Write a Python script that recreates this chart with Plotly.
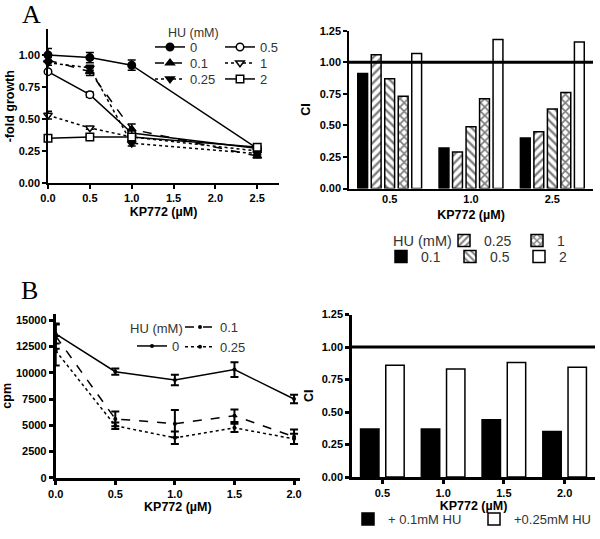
"""
Recreation of a two-panel figure: KP772 / HU growth curves and combination index bars.
"""

import plotly.graph_objects as go

# Data

# Panel A, left: -fold growth vs KP772 for several HU concentrations
KP_A = [0.0, 0.5, 1.0, 2.5]
GROWTH_HU0 = [1.00, 0.98, 0.92, 0.27]
GROWTH_HU0_ERR = [0.05, 0.04, 0.04, 0.02]
GROWTH_HU01 = [0.96, 0.87, 0.42, 0.21]
GROWTH_HU01_ERR = [0.02, 0.03, 0.04, 0.01]
GROWTH_HU025 = [0.94, 0.90, 0.31, 0.23]
GROWTH_HU025_ERR = [0.02, 0.02, 0.02, 0.01]
GROWTH_HU05 = [0.87, 0.69, 0.39, 0.27]
GROWTH_HU05_ERR = [0.01, 0.02, 0.02, 0.01]
GROWTH_HU1 = [0.53, 0.43, 0.36, 0.25]
GROWTH_HU1_ERR = [0.03, 0.01, 0.02, 0.01]
GROWTH_HU2 = [0.35, 0.36, 0.36, 0.28]
GROWTH_HU2_ERR = [0.01, 0.01, 0.01, 0.01]

# Panel A, right: combination index
CI_A_CATS = ["0.5", "1.0", "2.5"]
CI_A_HU01 = [0.91, 0.32, 0.40]
CI_A_HU025 = [1.06, 0.29, 0.45]
CI_A_HU05 = [0.87, 0.49, 0.63]
CI_A_HU1 = [0.73, 0.71, 0.76]
CI_A_HU2 = [1.07, 1.18, 1.16]

# Panel B, left: cpm vs KP772
KP_B = [0.0, 0.5, 1.0, 1.5, 2.0]
CPM_HU0 = [13700, 10100, 9300, 10300, 7500]
CPM_HU0_ERR = [900, 300, 500, 700, 400]
CPM_HU01 = [13500, 5600, 5150, 5900, 3900]
CPM_HU01_ERR = [1200, 700, 1300, 600, 700]
CPM_HU025 = [12100, 4950, 3800, 4750, 3700]
CPM_HU025_ERR = [1400, 300, 600, 400, 500]

# Panel B, right: combination index
CI_B_CATS = ["0.5", "1.0", "1.5", "2.0"]
CI_B_HU01 = [0.37, 0.37, 0.44, 0.35]
CI_B_HU025 = [0.86, 0.83, 0.88, 0.845]

CI_REF = 1.0

W, H = 600, 539
TICK_FONT = dict(family="Liberation Sans", size=11, color="black", weight="bold")
TITLE_FONT = dict(family="Liberation Sans", size=12.5, color="black", weight="bold")


def px_x(p):
    return p / W


def px_y(p):
    return 1 - p / H


fig = go.Figure()

# Panel A left: growth curves


def growth_trace(y, err, name, symbol, fill, dash, legend):
    return go.Scatter(
        x=KP_A, y=y, name=name, mode="lines+markers",
        line=dict(color="black", width=1.5, dash=dash),
        marker=dict(symbol=symbol, size=7.5, color=fill,
                    line=dict(color="black", width=1.5)),
        error_y=dict(type="data", array=err, color="black",
                     thickness=1.5, width=4),
        xaxis="x", yaxis="y", legend=legend, cliponaxis=False,
    )


# legend rows: (0, 0.5), (0.1, 1), (0.25, 2)
fig.add_trace(growth_trace(GROWTH_HU0, GROWTH_HU0_ERR, "0", "circle", "black", "solid", "legend"))
fig.add_trace(growth_trace(GROWTH_HU05, GROWTH_HU05_ERR, "0.5", "circle", "white", "solid", "legend"))
fig.add_trace(growth_trace(GROWTH_HU01, GROWTH_HU01_ERR, "0.1", "triangle-up", "black", "dash", "legend2"))
fig.add_trace(growth_trace(GROWTH_HU1, GROWTH_HU1_ERR, "1", "triangle-down", "white", "dot", "legend2"))
fig.add_trace(growth_trace(GROWTH_HU025, GROWTH_HU025_ERR, "0.25", "triangle-down", "black", "dot", "legend3"))
fig.add_trace(growth_trace(GROWTH_HU2, GROWTH_HU2_ERR, "2", "square", "white", "solid", "legend3"))

# Panel A right: CI bars


def ci_bar(cats, y, name, fill, shape, legend, xa, ya, rank):
    pattern = None
    if shape:
        pattern = dict(shape=shape, fgcolor="black", bgcolor="white",
                       size=6, solidity=0.5 if shape == "x" else 0.4)
    return go.Bar(
        x=cats, y=y, name=name, offsetgroup=str(rank),
        marker=dict(color=fill, line=dict(color="black", width=1.5),
                    pattern=pattern),
        xaxis=xa, yaxis=ya, legend=legend, legendrank=rank,
    )


fig.add_trace(ci_bar(CI_A_CATS, CI_A_HU01, "0.1", "black", None, "legend5", "x2", "y2", 1))
fig.add_trace(ci_bar(CI_A_CATS, CI_A_HU025, "0.25", "white", "/", "legend4", "x2", "y2", 2))
fig.add_trace(ci_bar(CI_A_CATS, CI_A_HU05, "0.5", "white", "\\", "legend5", "x2", "y2", 3))
fig.add_trace(ci_bar(CI_A_CATS, CI_A_HU1, "1", "white", "x", "legend4", "x2", "y2", 4))
fig.add_trace(ci_bar(CI_A_CATS, CI_A_HU2, "2", "white", None, "legend5", "x2", "y2", 5))

# Panel B left: cpm curves


def cpm_trace(y, err, name, dash, legend):
    return go.Scatter(
        x=KP_B, y=y, name=name, mode="lines+markers",
        line=dict(color="black", width=1.5, dash=dash),
        marker=dict(symbol="circle", size=4, color="black"),
        error_y=dict(type="data", array=err, color="black",
                     thickness=2, width=4),
        xaxis="x3", yaxis="y3", legend=legend, cliponaxis=False,
    )


fig.add_trace(cpm_trace(CPM_HU0, CPM_HU0_ERR, "0", "solid", "legend7"))
fig.add_trace(cpm_trace(CPM_HU01, CPM_HU01_ERR, "0.1", "dash", "legend6"))
fig.add_trace(cpm_trace(CPM_HU025, CPM_HU025_ERR, "0.25", "dot", "legend6"))

# Panel B right: CI bars

fig.add_trace(ci_bar(CI_B_CATS, CI_B_HU01, "+ 0.1mM HU", "black", None, "legend8", "x4", "y4", 1))
fig.add_trace(ci_bar(CI_B_CATS, CI_B_HU025, "+0.25mM HU", "white", None, "legend8", "x4", "y4", 2))

# CI = 1 reference lines
fig.add_shape(type="line", xref="x2 domain", yref="y2", x0=0, x1=1,
              y0=CI_REF, y1=CI_REF, line=dict(color="black", width=3))
fig.add_shape(type="line", xref="x4 domain", yref="y4", x0=0, x1=1,
              y0=CI_REF, y1=CI_REF, line=dict(color="black", width=3))

# Axes


def axis(domain, lw=1.5, **kw):
    d = dict(domain=domain, showline=True, linecolor="black", linewidth=lw,
             showgrid=False, zeroline=False, ticks="outside", ticklen=4,
             tickwidth=lw, tickcolor="black", tickfont=TICK_FONT,
             title_font=TITLE_FONT, fixedrange=True, automargin=False)
    d.update(kw)
    return d


fig.update_layout(
    xaxis=axis([px_x(48), px_x(279)], range=[0, 2.76], dtick=0.5,
               tickformat=".1f", anchor="y", title_text="KP772 (µM)",
               title_standoff=4),
    yaxis=axis([px_y(183), px_y(29.4)], range=[0, 1.2], dtick=0.25,
               tickformat=".2f", anchor="x", title_text="-fold growth",
               title_standoff=1),
    xaxis2=axis([px_x(349), px_x(593)], anchor="y2", ticks="",
                title_text="KP772 (µM)", title_standoff=6),
    yaxis2=axis([px_y(188.5), px_y(30.7)], range=[0, 1.25], dtick=0.25,
                tickformat=".2f", anchor="x2", title_text="CI",
                title_standoff=6),
    xaxis3=axis([px_x(55.7), px_x(300)], lw=3, range=[0, 2.05], dtick=0.5,
                tickformat=".1f", anchor="y3", title_text="KP772 (µM)",
                title_standoff=4),
    yaxis3=axis([px_y(477.7), px_y(314)], lw=3, range=[0, 15600],
                dtick=2500, tickformat="d", anchor="x3", title_text="cpm",
                title_standoff=6),
    xaxis4=axis([px_x(352), px_x(595)], lw=2.5, anchor="y4",
                title_text="KP772 (µM)", title_standoff=4),
    yaxis4=axis([px_y(477), px_y(314.5)], lw=2.5, range=[0, 1.25],
                dtick=0.25, tickformat=".2f", anchor="x4", title_text="CI",
                title_standoff=6),
    barmode="group",
    bargap=0.17,
    bargroupgap=0.27,
)

# Legends: positioned row by row to mimic the original layout


def leg(x, y, size, entrywidth=None, orientation="h"):
    d = dict(x=px_x(x), y=px_y(y), xanchor="left", yanchor="middle",
             orientation=orientation, bgcolor="rgba(0,0,0,0)",
             font=dict(family="Liberation Sans", size=size, color="#333"),
             tracegroupgap=0, itemwidth=30, itemclick=False,
             itemdoubleclick=False, traceorder="normal")
    if entrywidth is not None:
        d.update(entrywidth=entrywidth, entrywidthmode="pixels")
    return d


fig.update_layout(
    legend=leg(150, 47, 13, 25),
    legend2=leg(150, 63, 13, 25),
    legend3=leg(150, 79, 13, 25),
    legend4=leg(444, 241, 14, 28),
    legend5=leg(381, 257, 14, 24),
    legend6=leg(180, 337, 13, orientation="v"),
    legend7=leg(132, 346, 13, orientation="v"),
    legend8=leg(348, 519, 13, 81),
)

# Titles of the legends and panel letters
annos = [
    dict(text="HU (mM)", x=px_x(193), y=px_y(33), font=dict(family="Liberation Sans", size=12.5, color="#333")),
    dict(text="HU (mM)", x=px_x(422), y=px_y(241), font=dict(family="Liberation Sans", size=14.5, color="#333")),
    dict(text="HU (mM)", x=px_x(156), y=px_y(328), font=dict(family="Liberation Sans", size=13, color="#333")),
    dict(text="A", x=px_x(31), y=px_y(14), font=dict(family="Liberation Serif", size=26, color="black")),
    dict(text="B", x=px_x(29), y=px_y(290), font=dict(family="Liberation Serif", size=26, color="black")),
]
for a in annos:
    fig.add_annotation(xref="paper", yref="paper", showarrow=False,
                       xanchor="center", yanchor="middle", **a)

fig.update_layout(
    width=W, height=H,
    margin=dict(l=0, r=0, t=0, b=0),
    paper_bgcolor="white",
    plot_bgcolor="white",
)

# the page body has a default margin; drop it so the figure sits at (0, 0)
fig.write_html(
    "out.html",
    config={"displayModeBar": False},
    post_script="document.body.style.margin='0';",
)
